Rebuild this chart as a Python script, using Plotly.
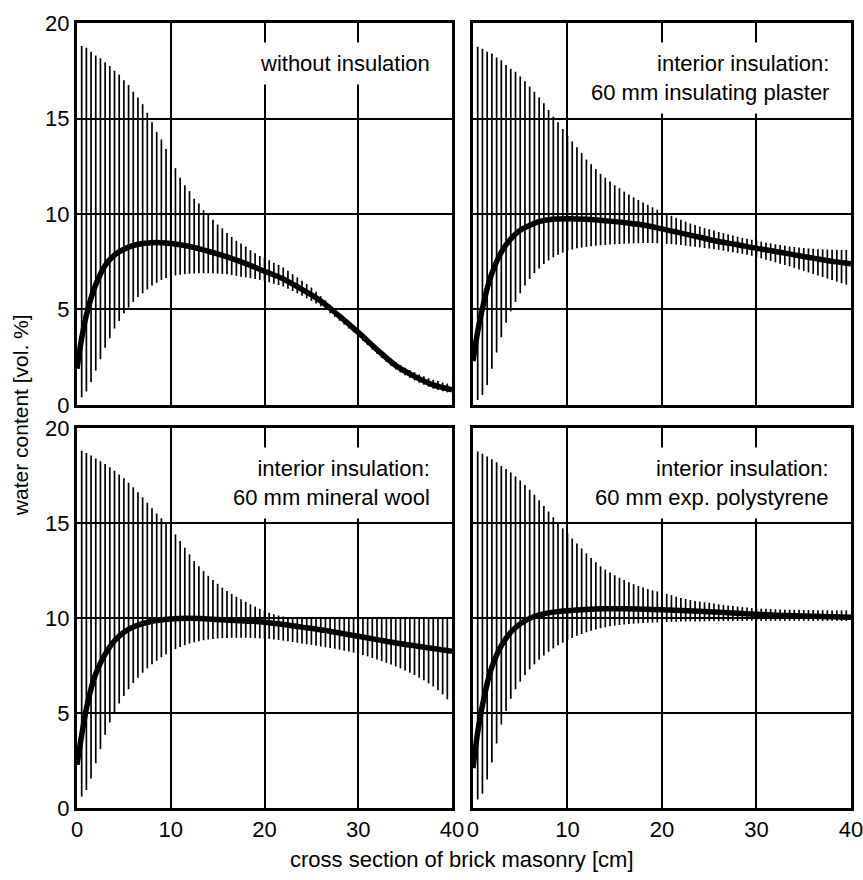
import plotly.graph_objects as go

# ---------------- data ----------------
x_ticks = [0, 10, 20, 30, 40]
y_ticks = [0, 5, 10, 15, 20]
x_tick_labels = ["0", "10", "20", "30", "40"]
y_tick_labels = ["0", "5", "10", "15", "20"]

panel_titles = [
    "without insulation",
    "interior insulation:<br>60 mm insulating plaster",
    "interior insulation:<br>60 mm mineral wool",
    "interior insulation:<br>60 mm exp. polystyrene",
]

# positions of the hatch lines (cm)
hatch_x = [i / 2 for i in range(1, 80)]

# upper / lower envelope of the water content range [vol. %]
upper_none = [18.8, 18.7, 18.5, 18.3, 18.15, 17.95, 17.75, 17.5, 17.3, 17.0,
              16.75, 16.4, 16.1, 15.75, 15.3, 14.8, 14.3, 13.9, 13.4, 12.9,
              12.4, 11.9, 11.5, 11.2, 10.8, 10.55, 10.2, 9.95, 9.7, 9.45,
              9.25, 9.0, 8.8, 8.6, 8.45, 8.3, 8.1, 7.95, 7.8, 7.7,
              7.58, 7.45, 7.33, 7.2, 7.03, 6.85, 6.68, 6.5, 6.33, 6.15,
              5.93, 5.7, 5.48, 5.25, 5.0, 4.75, 4.52, 4.3, 4.1, 3.9,
              3.68, 3.45, 3.22, 3.0, 2.8, 2.6, 2.42, 2.25, 2.1, 1.95,
              1.83, 1.72, 1.6, 1.5, 1.4, 1.32, 1.25, 1.18, 1.12]
lower_none = [0.4, 0.7, 1.2, 1.8, 2.4, 3.0, 3.5, 4.0, 4.4, 4.8,
              5.1, 5.4, 5.65, 5.85, 6.05, 6.25, 6.4, 6.55, 6.65, 6.72,
              6.78, 6.82, 6.85, 6.87, 6.88, 6.9, 6.9, 6.9, 6.9, 6.88,
              6.86, 6.84, 6.8, 6.76, 6.72, 6.68, 6.64, 6.6, 6.55, 6.5,
              6.42, 6.35, 6.28, 6.2, 6.08, 5.97, 5.85, 5.72, 5.58, 5.45,
              5.31, 5.17, 4.99, 4.8, 4.61, 4.41, 4.21, 4.0, 3.8, 3.58,
              3.35, 3.13, 2.9, 2.68, 2.47, 2.26, 2.06, 1.86, 1.7, 1.56,
              1.42, 1.29, 1.17, 1.06, 0.95, 0.85, 0.78, 0.72, 0.66]

upper_plaster = [18.75, 18.65, 18.5, 18.4, 18.2, 18.05, 17.8, 17.6, 17.45, 17.2,
                 16.95, 16.67, 16.4, 16.1, 15.8, 15.45, 15.1, 14.8, 14.45, 14.1,
                 13.8, 13.5, 13.2, 12.85, 12.6, 12.35, 12.1, 11.9, 11.7, 11.5,
                 11.35, 11.17, 11.02, 10.87, 10.73, 10.6, 10.48, 10.35, 10.22, 10.1,
                 10.0, 9.9, 9.8, 9.7, 9.6, 9.5, 9.42, 9.34, 9.26, 9.2,
                 9.13, 9.06, 9.0, 8.93, 8.87, 8.81, 8.75, 8.7, 8.65, 8.6,
                 8.55, 8.5, 8.46, 8.42, 8.38, 8.34, 8.3, 8.27, 8.24, 8.22,
                 8.2, 8.18, 8.16, 8.15, 8.14, 8.13, 8.12, 8.12, 8.12]
lower_plaster = [0.26, 0.52, 1.05, 1.9, 2.75, 3.55, 4.3, 4.9, 5.4, 5.85,
                 6.25, 6.6, 6.9, 7.15, 7.38, 7.57, 7.73, 7.87, 7.98, 8.07,
                 8.14, 8.2, 8.24, 8.28, 8.31, 8.34, 8.36, 8.38, 8.4, 8.42,
                 8.43, 8.44, 8.45, 8.46, 8.47, 8.48, 8.48, 8.48, 8.47, 8.46,
                 8.44, 8.42, 8.4, 8.37, 8.34, 8.31, 8.28, 8.25, 8.22, 8.19,
                 8.15, 8.12, 8.08, 8.04, 8.0, 7.96, 7.91, 7.86, 7.81, 7.75,
                 7.68, 7.61, 7.54, 7.47, 7.4, 7.33, 7.26, 7.18, 7.1, 7.02,
                 6.94, 6.86, 6.78, 6.7, 6.62, 6.54, 6.46, 6.38, 6.3]

upper_wool = [18.8, 18.68, 18.55, 18.4, 18.25, 18.1, 17.93, 17.75, 17.55, 17.35,
              17.12, 16.88, 16.62, 16.35, 16.07, 15.78, 15.5, 15.25, 15.0, 14.7,
              14.4, 14.05, 13.7, 13.35, 13.0, 12.72, 12.47, 12.22, 12.0, 11.8,
              11.6, 11.42, 11.27, 11.12, 10.98, 10.85, 10.72, 10.6, 10.48, 10.38,
              10.28, 10.2, 10.13, 10.08, 10.04, 10.02, 10.0, 10.0, 10.0, 10.0,
              10.0, 10.0, 10.0, 10.0, 10.0, 10.0, 10.0, 10.0, 10.0, 10.0,
              10.0, 10.0, 10.0, 10.0, 10.0, 10.0, 10.0, 10.0, 10.0, 10.0,
              10.0, 10.0, 10.0, 10.0, 10.0, 10.0, 10.0, 10.0, 10.0]
lower_wool = [0.6, 0.95, 1.55, 2.35, 3.1, 3.85, 4.5, 5.05, 5.5, 5.9,
              6.25, 6.58, 6.86, 7.12, 7.35, 7.56, 7.75, 7.93, 8.09, 8.23,
              8.36, 8.47, 8.57, 8.65, 8.72, 8.78, 8.83, 8.87, 8.9, 8.92,
              8.94, 8.95, 8.96, 8.96, 8.96, 8.96, 8.95, 8.94, 8.93, 8.92,
              8.9, 8.87, 8.84, 8.81, 8.77, 8.74, 8.7, 8.66, 8.62, 8.58,
              8.54, 8.5, 8.46, 8.42, 8.38, 8.33, 8.28, 8.23, 8.18, 8.12,
              8.05, 7.98, 7.9, 7.82, 7.73, 7.64, 7.55, 7.45, 7.35, 7.24,
              7.12, 7.0, 6.86, 6.72, 6.56, 6.4, 6.2, 5.98, 5.72]

upper_eps = [18.76, 18.64, 18.5, 18.36, 18.19, 18.0, 17.84, 17.66, 17.45, 17.24,
             17.0, 16.75, 16.49, 16.2, 15.9, 15.6, 15.3, 15.0, 14.72, 14.45,
             14.18, 13.92, 13.66, 13.4, 13.16, 12.93, 12.72, 12.55, 12.4, 12.25,
             12.12, 12.0, 11.88, 11.78, 11.68, 11.6, 11.52, 11.45, 11.4, 11.35,
             11.27, 11.2, 11.12, 11.05, 11.0, 10.95, 10.9, 10.86, 10.83, 10.8,
             10.76, 10.72, 10.69, 10.66, 10.63, 10.6, 10.57, 10.55, 10.52, 10.5,
             10.49, 10.48, 10.47, 10.46, 10.45, 10.44, 10.44, 10.43, 10.43, 10.42,
             10.42, 10.42, 10.41, 10.41, 10.4, 10.4, 10.4, 10.4, 10.4]
lower_eps = [0.45, 0.75, 1.5, 2.4, 3.4, 4.4, 5.1, 5.75, 6.25, 6.65,
             7.0, 7.3, 7.56, 7.8, 8.02, 8.22, 8.4, 8.56, 8.7, 8.83,
             8.95, 9.06, 9.16, 9.25, 9.33, 9.4, 9.46, 9.51, 9.56, 9.6,
             9.63, 9.66, 9.68, 9.7, 9.72, 9.74, 9.75, 9.76, 9.77, 9.78,
             9.79, 9.8, 9.8, 9.81, 9.81, 9.82, 9.82, 9.82, 9.83, 9.83,
             9.83, 9.83, 9.84, 9.84, 9.84, 9.84, 9.84, 9.85, 9.85, 9.85,
             9.85, 9.85, 9.85, 9.85, 9.85, 9.85, 9.85, 9.85, 9.85, 9.85,
             9.85, 9.85, 9.85, 9.85, 9.85, 9.85, 9.85, 9.85, 9.85]

# mean water content curves
mean_none_x = [0, 0.5, 1, 1.5, 2, 3, 4, 5, 6, 7, 8, 9, 10, 12, 14, 16, 18, 20,
               22, 24, 26, 28, 30, 32, 34, 36, 38, 40]
mean_none_y = [1.9, 3.5, 4.7, 5.6, 6.3, 7.3, 7.85, 8.15, 8.35, 8.45, 8.5, 8.5, 8.45,
               8.3, 8.05, 7.75, 7.4, 7.0, 6.6, 6.05, 5.45, 4.65, 3.8, 2.9, 2.07,
               1.5, 1.05, 0.8]
mean_plaster_x = [0, 0.5, 1, 1.5, 2, 3, 4, 5, 6, 7, 8, 10, 12, 14, 16, 18, 20,
                  22, 24, 26, 28, 30, 32, 34, 36, 38, 40]
mean_plaster_y = [2.3, 3.85, 5.05, 6.1, 6.9, 8.0, 8.7, 9.15, 9.4, 9.6, 9.7, 9.75,
                  9.72, 9.65, 9.55, 9.42, 9.22, 9.0, 8.78, 8.56, 8.39, 8.2, 8.04,
                  7.86, 7.69, 7.52, 7.4]
mean_wool_x = [0, 0.5, 1, 1.5, 2, 3, 4, 5, 6, 7, 8, 10, 12, 14, 16, 18, 20,
               22, 24, 26, 28, 30, 32, 34, 36, 38, 40]
mean_wool_y = [2.27, 3.84, 5.24, 6.28, 7.07, 8.1, 8.8, 9.25, 9.52, 9.7, 9.83, 9.95,
               9.98, 9.95, 9.9, 9.84, 9.78, 9.66, 9.52, 9.38, 9.21, 9.04, 8.86,
               8.68, 8.54, 8.39, 8.25]
mean_eps_x = [0, 0.5, 1, 1.5, 2, 3, 4, 5, 6, 7, 8, 10, 12, 14, 16, 18, 20, 22,
              25, 28, 30, 32, 35, 38, 40]
mean_eps_y = [2.1, 4.0, 5.41, 6.54, 7.42, 8.55, 9.25, 9.69, 9.98, 10.16, 10.27,
              10.38, 10.45, 10.48, 10.48, 10.46, 10.43, 10.39, 10.33, 10.25, 10.2,
              10.15, 10.1, 10.06, 10.04]

panels = [
    (upper_none, lower_none, mean_none_x, mean_none_y),
    (upper_plaster, lower_plaster, mean_plaster_x, mean_plaster_y),
    (upper_wool, lower_wool, mean_wool_x, mean_wool_y),
    (upper_eps, lower_eps, mean_eps_x, mean_eps_y),
]

# ---------------- figure ----------------
FONT = "Liberation Sans, Arial, Helvetica, sans-serif"
fig = go.Figure()

x_domains = [[0, 0.4845], [0.5116, 1.0], [0, 0.4845], [0.5116, 1.0]]
y_domains = [[0.5134, 1.0], [0.5134, 1.0], [0, 0.4841], [0, 0.4841]]

for i, (up, lo, mx, my) in enumerate(panels):
    n = i + 1
    xa = "x" if n == 1 else f"x{n}"
    ya = "y" if n == 1 else f"y{n}"
    hx, hy = [], []
    for xv, u, l in zip(hatch_x, up, lo):
        hx += [xv, xv, None]
        hy += [l, u, None]
    fig.add_trace(go.Scatter(x=hx, y=hy, mode="lines", xaxis=xa, yaxis=ya,
                             line=dict(color="black", width=1.7),
                             showlegend=False, hoverinfo="skip"))
    fig.add_trace(go.Scatter(x=mx, y=my, mode="lines", xaxis=xa, yaxis=ya,
                             line=dict(color="black", width=5.5, shape="spline",
                                       smoothing=1.0),
                             showlegend=False))

    axis_common = dict(showline=True, mirror=True, linecolor="black", linewidth=3,
                       showgrid=True, gridcolor="black", gridwidth=2,
                       zeroline=False, ticks="", fixedrange=True,
                       ticklabeloverflow="allow",
                       tickfont=dict(family=FONT, size=22, color="black"))
    xkey = "xaxis" if n == 1 else f"xaxis{n}"
    ykey = "yaxis" if n == 1 else f"yaxis{n}"
    fig.layout[xkey] = dict(axis_common, domain=x_domains[i], range=[0, 40],
                            anchor=ya, tickvals=x_ticks, ticktext=x_tick_labels,
                            showticklabels=(n in (3, 4)))
    fig.layout[ykey] = dict(axis_common, domain=y_domains[i], range=[0, 20],
                            anchor=xa, tickvals=y_ticks, ticktext=y_tick_labels,
                            showticklabels=(n in (1, 3)))

    fig.add_annotation(text=panel_titles[i], xref=xa, yref=ya,
                       x=38.6, y=17.9 if n == 1 else 17.1,
                       xanchor="right", yanchor="middle", align="right",
                       showarrow=False, bgcolor="white", borderpad=8,
                       font=dict(family=FONT, size=22, color="black"))

fig.add_annotation(text="water content [vol. %]", xref="paper", yref="paper",
                   x=-0.0735, y=0.5006, textangle=-90, showarrow=False,
                   xanchor="center", yanchor="middle",
                   font=dict(family=FONT, size=21, color="black"))
fig.add_annotation(text="cross section of brick masonry [cm]", xref="paper",
                   yref="paper", x=0.4968, y=-0.0662, showarrow=False,
                   xanchor="center", yanchor="middle",
                   font=dict(family=FONT, size=22, color="black"))

fig.update_layout(width=863, height=880,
                  margin=dict(l=77, r=12, t=23, b=72, autoexpand=False),
                  paper_bgcolor="white", plot_bgcolor="white",
                  showlegend=False, hovermode=False)

# remove the browser's default 8 px page margin so the figure fills the window
fig.write_html("out.html",
               config={"displayModeBar": False, "staticPlot": True},
               post_script="document.body.style.margin='0';"
                           "document.body.style.overflow='hidden';")
